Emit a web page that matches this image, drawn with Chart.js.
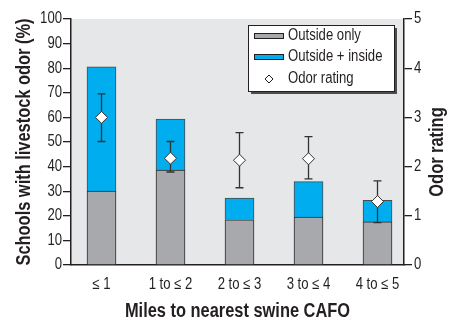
<!DOCTYPE html>
<html lang="en">
<head>
  <meta charset="UTF-8">
  <title>Schools with livestock odor</title>
  <script src="https://cdn.jsdelivr.net/npm/chart.js"></script>
  <style>
    body { margin: 0; padding: 0; background: #fff; }
    #wrap { width: 461px; height: 320px; }
  </style>
</head>
<body>
  <div id="wrap"><canvas id="graph" width="461" height="320"></canvas></div>

  <script>
    const categories = ['\u2264 1', '1 to \u2264 2', '2 to \u2264 3', '3 to \u2264 4', '4 to \u2264 5'];
    const outsideOnly = [30, 38.6, 18.4, 19.5, 17.5];
    const outsideTotal = [80.6, 59.3, 27.2, 33.9, 26.3];   // outside + inside, top of stacked bar
    const odorRating = [3.0, 2.17, 2.13, 2.16, 1.29];
    const odorUpper = [3.48, 2.51, 2.69, 2.61, 1.71];
    const odorLower = [2.51, 1.89, 1.57, 1.75, 0.86];
    const leftTicks = [0, 10, 20, 30, 40, 50, 60, 70, 80, 90, 100];
    const rightTicks = [0, 1, 2, 3, 4, 5];

    const FONT = '"Liberation Sans", Arial, sans-serif';
    const NARROW = 0.82;   // squeeze text to look like a condensed face
    const GRAY = '#a7a9ac';
    const BLUE = '#00aeef';
    const INK = '#231f20';

    // draws condensed text at (x, y), optionally rotated
    function narrowText(ctx, text, x, y, font, align, rot) {
      ctx.save();
      ctx.translate(x, y);
      if (rot) ctx.rotate(rot);
      ctx.scale(NARROW, 1);
      ctx.font = font;
      ctx.fillStyle = INK;
      ctx.textAlign = align;
      ctx.textBaseline = 'middle';
      ctx.fillText(text, 0, 0);
      ctx.restore();
    }

    const plotBg = {
      id: 'plotBg',
      beforeDraw(chart) {
        const { ctx, chartArea: a } = chart;
        ctx.save();
        ctx.fillStyle = '#e6e7e8';
        ctx.fillRect(a.left, a.top, a.right - a.left, a.bottom - a.top);
        ctx.restore();
      }
    };

    const errorBars = {
      id: 'errorBars',
      beforeDatasetDraw(chart, args) {
        if (args.index !== 2) return;
        const { ctx } = chart;
        const xs = chart.scales.x, ys = chart.scales.y2;
        ctx.save();
        ctx.strokeStyle = '#333';
        ctx.lineWidth = 1.3;
        odorRating.forEach((v, i) => {
          const x = xs.getPixelForValue(i);
          const yt = ys.getPixelForValue(odorUpper[i]);
          const yb = ys.getPixelForValue(odorLower[i]);
          ctx.beginPath();
          ctx.moveTo(x, yt); ctx.lineTo(x, yb);
          ctx.moveTo(x - 4, yt); ctx.lineTo(x + 4, yt);
          ctx.moveTo(x - 4, yb); ctx.lineTo(x + 4, yb);
          ctx.stroke();
        });
        ctx.restore();
      }
    };

    const labels = {
      id: 'labels',
      afterDraw(chart) {
        const { ctx, chartArea: a } = chart;
        const xs = chart.scales.x, ys = chart.scales.y, ys2 = chart.scales.y2;
        const tickFont = '16px ' + FONT;
        const titleFont = 'bold 20px ' + FONT;

        leftTicks.forEach(v => narrowText(ctx, String(v), a.left - 9, ys.getPixelForValue(v), tickFont, 'right'));
        rightTicks.forEach(v => narrowText(ctx, String(v), a.right + 10, ys2.getPixelForValue(v), tickFont, 'left'));
        categories.forEach((c, i) => narrowText(ctx, c, xs.getPixelForValue(i), 285, tickFont, 'center'));

        narrowText(ctx, 'Miles to nearest swine CAFO', (a.left + a.right) / 2, 311, titleFont, 'center');
        narrowText(ctx, 'Schools with livestock odor (%)', 24, 142, titleFont, 'center', -Math.PI / 2);
        narrowText(ctx, 'Odor rating', 437, 152, titleFont, 'center', -Math.PI / 2);

        // legend box
        const x0 = 248, y0 = 25, w = 146, h = 66;
        ctx.save();
        ctx.fillStyle = '#4d4d4f';
        ctx.fillRect(x0 + 3, y0 + 3, w, h);
        ctx.fillStyle = '#fff';
        ctx.fillRect(x0, y0, w, h);
        ctx.strokeStyle = INK;
        ctx.lineWidth = 1;
        ctx.strokeRect(x0 + 0.5, y0 + 0.5, w, h);

        ctx.fillStyle = GRAY;
        ctx.fillRect(254, 33, 29, 5);
        ctx.strokeRect(254.5, 33.5, 29, 5);
        ctx.fillStyle = BLUE;
        ctx.fillRect(254, 54, 29, 5);
        ctx.strokeRect(254.5, 54.5, 29, 5);

        ctx.beginPath();
        ctx.moveTo(269, 75); ctx.lineTo(273, 79); ctx.lineTo(269, 83); ctx.lineTo(265, 79);
        ctx.closePath();
        ctx.fillStyle = '#fff';
        ctx.fill();
        ctx.stroke();
        ctx.restore();

        narrowText(ctx, 'Outside only', 288, 36, tickFont, 'left');
        narrowText(ctx, 'Outside + inside', 288, 57, tickFont, 'left');
        narrowText(ctx, 'Odor rating', 288, 79, tickFont, 'left');
      }
    };

    const ctx = document.getElementById('graph').getContext('2d');
    const chart = new Chart(ctx, {
      type: 'bar',
      data: {
        datasets: [
          {
            label: 'Outside only',
            data: outsideOnly.map((v, i) => ({ x: i, y: v })),
            backgroundColor: GRAY,
            borderColor: '#2b2b2b',
            borderWidth: 1,
            barThickness: 29,
            order: 2
          },
          {
            label: 'Outside + inside',
            data: outsideTotal.map((v, i) => ({ x: i, y: v - outsideOnly[i] })),
            backgroundColor: BLUE,
            borderColor: '#4a4a4a',
            borderWidth: 1,
            barThickness: 29,
            order: 2
          },
          {
            type: 'line',
            label: 'Odor rating',
            data: odorRating.map((v, i) => ({ x: i, y: v })),
            yAxisID: 'y2',
            showLine: false,
            pointStyle: 'rectRot',
            pointRadius: 6,
            pointBackgroundColor: '#fff',
            pointBorderColor: '#333',
            pointBorderWidth: 1,
            order: 0
          }
        ]
      },
      options: {
        responsive: false,
        animation: false,
        layout: { padding: { top: 19, left: 0, right: 0, bottom: 0 } },
        plugins: {
          legend: { display: false },
          tooltip: { enabled: false }
        },
        scales: {
          x: {
            type: 'linear',
            stacked: true,
            offset: false,
            min: -0.442,
            max: 4.384,
            grid: { display: false, drawTicks: false },
            border: { display: true, color: INK, width: 1.5 },
            afterBuildTicks: s => { s.ticks = categories.map((c, i) => ({ value: i })); },
            afterFit: s => { s.height = 55; },
            ticks: { display: false }
          },
          y: {
            stacked: true,
            min: 0,
            max: 100,
            afterBuildTicks: s => { s.ticks = leftTicks.map(v => ({ value: v })); },
            afterFit: s => { s.width = 71; },
            grid: { drawOnChartArea: false, drawTicks: true, tickLength: 8, color: INK, lineWidth: 1.3 },
            border: { display: true, color: INK, width: 1.5 },
            ticks: { display: false }
          },
          y2: {
            position: 'right',
            min: 0,
            max: 5,
            afterBuildTicks: s => { s.ticks = rightTicks.map(v => ({ value: v })); },
            afterFit: s => { s.width = 57; },
            grid: { drawOnChartArea: false, drawTicks: true, tickLength: 8, color: INK, lineWidth: 1.3 },
            border: { display: true, color: INK, width: 1.5 },
            ticks: { display: false }
          }
        }
      },
      plugins: [plotBg, errorBars, labels]
    });
  </script>
</body>
</html>
